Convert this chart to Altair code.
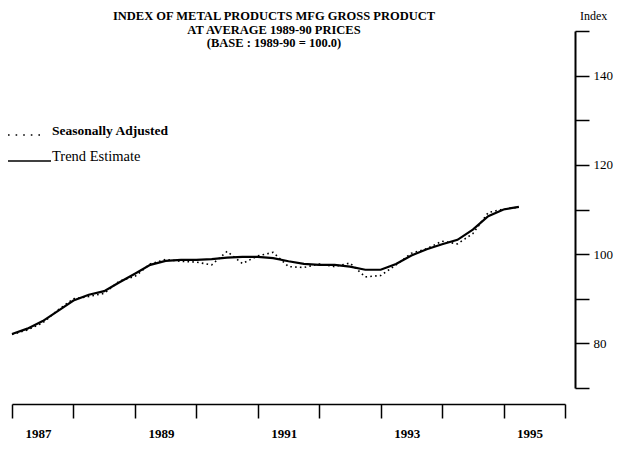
import altair as alt
import pandas as pd

# Quarterly time points (decimal years)
quarter_t = [1987.0, 1987.25, 1987.5, 1987.75, 1988.0, 1988.25, 1988.5, 1988.75,
             1989.0, 1989.25, 1989.5, 1989.75, 1990.0, 1990.25, 1990.5, 1990.75,
             1991.0, 1991.25, 1991.5, 1991.75, 1992.0, 1992.25, 1992.5, 1992.75,
             1993.0, 1993.25, 1993.5, 1993.75, 1994.0, 1994.25, 1994.5, 1994.75,
             1995.0, 1995.25]

trend = [82.1, 83.3, 85.0, 87.3, 89.6, 90.9, 91.7, 93.7,
         95.6, 97.6, 98.5, 98.7, 98.7, 98.9, 99.2, 99.4,
         99.4, 99.1, 98.4, 97.8, 97.6, 97.6, 97.2, 96.5,
         96.5, 97.8, 99.7, 101.1, 102.2, 103.2, 105.5, 108.5,
         110.0, 110.6]

seas_adj = [82.0, 83.0, 84.6, 87.5, 90.0, 90.5, 91.2, 94.0,
            95.0, 97.8, 98.8, 98.4, 98.2, 97.6, 100.6, 97.9,
            99.6, 100.4, 97.2, 97.0, 97.8, 97.2, 98.0, 94.9,
            95.2, 97.6, 100.2, 101.2, 102.9, 102.3, 104.6, 109.3,
            110.1, 110.5]

title_lines = ["INDEX OF METAL PRODUCTS MFG GROSS PRODUCT",
               "AT AVERAGE 1989-90 PRICES",
               "(BASE : 1989-90 = 100.0)"]
legend_labels = ["Seasonally Adjusted", "Trend Estimate"]
y_axis_title = "Index"
x_ticks = [1987, 1988, 1989, 1990, 1991, 1992, 1993, 1994, 1995, 1996]
y_ticks = [70, 80, 90, 100, 110, 120, 130, 140, 150]

df = pd.DataFrame({"t": quarter_t, "trend": trend, "sa": seas_adj})

SERIF = "Liberation Serif"
W, H = 553, 357

xenc = alt.X("t:Q",
             scale=alt.Scale(domain=[1987, 1996], nice=False, zero=False),
             axis=alt.Axis(values=x_ticks, title=None, grid=False,
                           labelExpr="datum.value % 2 == 1 ? toString(datum.value) : ''",
                           labelOffset=26, labelAlign="center", labelFlush=False,
                           labelOverlap=False, labelBound=False,
                           labelFont=SERIF, labelFontSize=13, labelFontWeight="bold",
                           labelColor="black", labelPadding=9,
                           offset=16, tickSize=14, tickColor="black", tickWidth=1.5,
                           domainColor="black", domainWidth=1.5))

yscale = alt.Scale(domain=[70, 150], nice=False, zero=False)
yaxis = alt.Axis(values=y_ticks, orient="right", title=None, grid=False,
                 labelExpr="(datum.value == 80 || datum.value == 100 || datum.value == 120 || datum.value == 140) ? toString(datum.value) : ''",
                 labelFont=SERIF, labelFontSize=13, labelColor="black",
                 labelPadding=4, labelOverlap=False, labelFlush=False,
                 offset=10, tickSize=14, tickColor="black", tickWidth=1.5,
                 domainColor="black", domainWidth=2)

trend_line = alt.Chart(df).mark_line(color="black", strokeWidth=2.2).encode(
    x=xenc, y=alt.Y("trend:Q", scale=yscale, axis=yaxis))

sa_line = alt.Chart(df).mark_line(color="black", strokeWidth=1.6,
                                  strokeDash=[1.6, 3.2]).encode(
    x=alt.X("t:Q"), y=alt.Y("sa:Q"))


def text_mark(txt, x, y, size, weight="bold", align="center"):
    return alt.Chart(pd.DataFrame({"label": [txt]})).mark_text(
        font=SERIF, fontSize=size, fontWeight=weight, align=align,
        baseline="middle", color="black").encode(
        text="label:N", x=alt.value(x), y=alt.value(y))


titles = (text_mark(title_lines[0], 262, -15, 12.5)
          + text_mark(title_lines[1], 262, -1.5, 12.5)
          + text_mark(title_lines[2], 262, 12, 12.5))

index_title = text_mark(y_axis_title, 568, -15, 12, weight="normal", align="left")

leg_text1 = text_mark(legend_labels[0], 40, 100, 13.5, align="left")
leg_text2 = text_mark(legend_labels[1], 40, 126, 14.5, weight="normal", align="left")

leg_dots = alt.Chart(pd.DataFrame({"k": [0]})).mark_rule(
    color="black", strokeWidth=1.6, strokeDash=[1.6, 6]).encode(
    x=alt.value(-4), x2=alt.value(34), y=alt.value(104))
leg_solid = alt.Chart(pd.DataFrame({"k": [0]})).mark_rule(
    color="black", strokeWidth=1.5).encode(
    x=alt.value(-4), x2=alt.value(39), y=alt.value(130))

chart = alt.layer(trend_line, sa_line, titles, index_title,
                  leg_text1, leg_text2, leg_dots, leg_solid).properties(
    width=W, height=H,
    autosize=alt.AutoSizeParams(type="none"),
    padding={"left": 4, "top": 23, "right": 56, "bottom": 54},
    background="white",
).configure_view(stroke=None)

chart.save("out.html", embed_options={"renderer": "svg", "actions": False})
